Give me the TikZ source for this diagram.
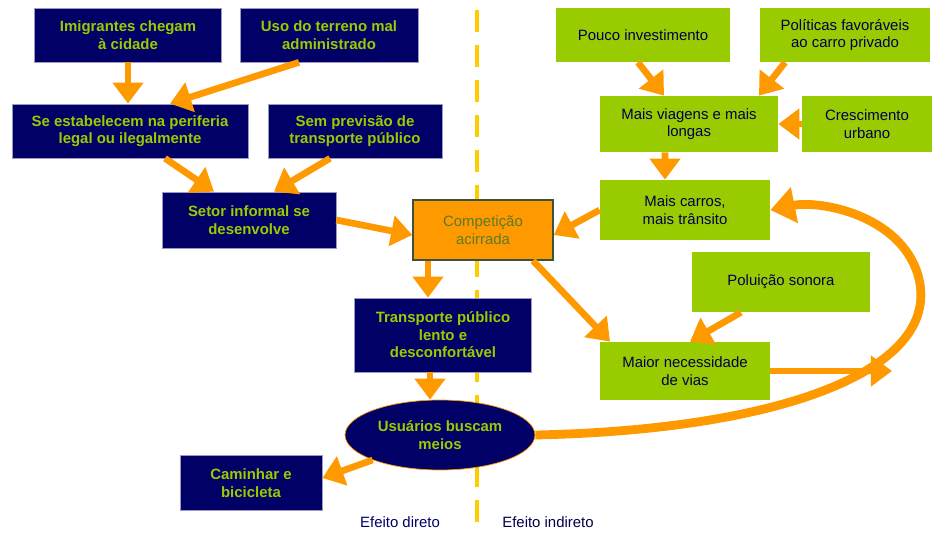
\documentclass[tikz,border=0pt]{standalone}
\usepackage{fontspec}
\setmainfont{Liberation Sans}
\usetikzlibrary{arrows.meta,shapes.geometric}
\definecolor{navybox}{HTML}{000066}
\definecolor{greenbox}{HTML}{99CC00}
\definecolor{orangearr}{HTML}{FF9900}
\definecolor{yellowline}{HTML}{FFCC00}
\begin{document}
\begin{tikzpicture}[x=0.02cm,y=-0.02cm,
	every node/.style={align=center,inner sep=1pt,font=\fontsize{8.5}{10}\selectfont},
	direct/.style={rectangle,fill=navybox,draw=navybox!40,thin,text=greenbox,font=\fontsize{8.5}{10}\selectfont\bfseries},
	indirect/.style={rectangle,fill=greenbox,text=navybox!70!black},
	arr/.style={draw=orangearr,line width=3.8pt,-{Triangle[length=12pt,width=17pt]}}]
	\useasboundingbox (0,0) rectangle (937,533);
	\draw[yellowline,line width=2.3pt,dash pattern=on 0.45cm off 0.25cm] (477,10) -- (477,530);
	% direct effects
	\node[direct,minimum width=3.74cm,minimum height=1.08cm] (imig) at (128,35) {Imigrantes chegam\\à cidade};
	\node[direct,minimum width=3.56cm,minimum height=1.08cm] (uso) at (329,35) {Uso do terreno mal\\administrado};
	\node[direct,minimum width=4.72cm,minimum height=1.08cm] (estab) at (130,131) {Se estabelecem na periferia\\legal ou ilegalmente};
	\node[direct,minimum width=3.48cm,minimum height=1.08cm] (semprev) at (355,131) {Sem previsão de\\transporte público};
	\node[direct,minimum width=3.48cm,minimum height=1.12cm] (setor) at (249,220) {Setor informal se\\desenvolve};
	\node[rectangle,fill=orangearr,draw=navybox!60!greenbox,thick,text=greenbox!60!navybox,minimum width=2.8cm,minimum height=1.2cm] (compet) at (483,230) {Competição\\acirrada};
	\node[direct,minimum width=3.54cm,minimum height=1.48cm] (transp) at (443,335) {Transporte público\\lento e\\desconfortável};
	\node[direct,ellipse,draw=orangearr,minimum width=3.8cm,minimum height=1.4cm] (usu) at (440,435) {Usuários buscam\\meios};
	\node[direct,minimum width=2.84cm,minimum height=1.1cm] (camin) at (251,483) {Caminhar e\\bicicleta};
	% indirect effects
	\node[indirect,minimum width=3.48cm,minimum height=1.08cm] (pouco) at (643,35) {Pouco investimento};
	\node[indirect,minimum width=3.4cm,minimum height=1.08cm] (polit) at (845,35) {Políticas favoráveis\\ao carro privado};
	\node[indirect,minimum width=3.56cm,minimum height=1.12cm] (viagens) at (689,124) {Mais viagens e mais\\longas};
	\node[indirect,minimum width=2.6cm,minimum height=1.12cm] (cresc) at (867,124) {Crescimento\\urbano};
	\node[indirect,minimum width=3.4cm,minimum height=1.2cm] (carros) at (685,210) {Mais carros,\\mais trânsito};
	\node[indirect,minimum width=3.56cm,minimum height=1.2cm] (polui) at (781,282) {Poluição sonora};
	\node[indirect,minimum width=3.4cm,minimum height=1.16cm] (necess) at (685,371) {Maior necessidade\\de vias};
	\node[text=navybox] (direto) at (400,522) {Efeito direto};
	\node[text=navybox!70!black] (indireto) at (548,522) {Efeito indireto};
	\coordinate (curvein) at (892,371);
	% arrows
	\draw[arr] (imig.south) -- (imig.south |- estab.north);
	\draw[arr] ([xshift=-0.6cm]uso.south) -- ([xshift=0.8cm]estab.north);
	\draw[arr] ([xshift=0.7cm]estab.south) -- ([xshift=-0.7cm]setor.north);
	\draw[arr] ([xshift=-0.5cm]semprev.south) -- ([xshift=0.5cm]setor.north);
	\draw[arr] (setor.east) -- ([yshift=-0.1cm]compet.west);
	\draw[arr] ([xshift=-1.1cm]compet.south) -- ([xshift=-1.1cm]compet.south |- transp.north);
	\draw[arr] (carros.west) -- ([yshift=-0.1cm]compet.east);
	\draw[arr] ([xshift=1.0cm]compet.south) -- ([xshift=-1.5cm]necess.north);
	\draw[arr] ([xshift=-0.26cm]transp.south) -- ([xshift=-0.26cm]transp.south |- usu.north);
	\draw[arr] (usu.south west) -- ([yshift=0.1cm]camin.east);
	\draw[arr] ([xshift=-0.1cm]pouco.south) -- ([xshift=-0.5cm]viagens.north);
	\draw[arr] ([xshift=-1.2cm]polit.south) -- ([xshift=1.4cm]viagens.north);
	\draw[arr] (cresc.west) -- (viagens.east);
	\draw[arr] ([xshift=-0.48cm]viagens.south) -- ([xshift=-0.4cm]carros.north);
	\draw[arr] ([xshift=-0.8cm]polui.south) -- ([xshift=0.1cm]necess.north);
	\draw[arr] (necess.east) -- (curvein);
	\draw[arr,line width=5pt,-{Triangle[length=14pt,width=20pt]}] (usu.east) .. controls (780,430) and (945,370) .. (918,275) .. controls (900,215) and (820,200) .. (carros.east);
\end{tikzpicture}
\end{document}
